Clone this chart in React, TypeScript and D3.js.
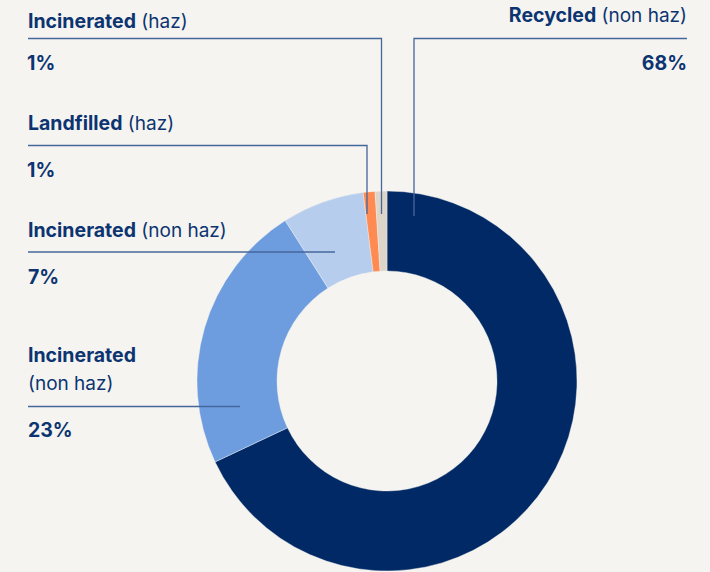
import React from "react";
import * as d3 from "d3";

const categories = [
  "Recycled (non haz)",
  "Incinerated (non haz) 23",
  "Incinerated (non haz) 7",
  "Landfilled (haz)",
  "Incinerated (haz)",
];
const values = [68, 23, 7, 1, 1];
const colors = ["#002966", "#6d9ddf", "#b6cdee", "#ff8b52", "#ddd5c9"];

const W = 710;
const H = 572;
const cx = 387;
const cy = 381;
const outerR = 190;
const innerR = 110;
const textColor = "#0c3470";
const lineColor = "#46679b";

export default function App() {
  const pie = d3
    .pie<number>()
    .sort(null)
    .value((d) => d)
    .startAngle(0)
    .endAngle(2 * Math.PI);
  const arcs = pie(values);
  const arc = d3.arc<d3.PieArcDatum<number>>().innerRadius(innerR).outerRadius(outerR);
  const font = "Inter, 'Noto Sans', sans-serif";
  const reg = { fontWeight: 400, fontSize: 19 };

  return (
    <div style={{ position: "fixed", left: 0, top: 0, width: W, height: H, background: "#f5f4f0" }}>
      <svg width={W} height={H} style={{ display: "block", fontFamily: font }}>
        <rect width={W} height={H} fill="#f5f4f0" />
        <g transform={`translate(${cx},${cy})`}>
          {arcs.map((a, i) => (
            <path key={categories[i]} d={arc(a) || ""} fill={colors[i]} stroke="#f5f4f0" strokeWidth={0.4} />
          ))}
        </g>
        <g fill="none" stroke={lineColor} strokeWidth={1.3}>
          <polyline points="28,38.5 381.5,38.5 381.5,214" />
          <polyline points="28,145.5 367,145.5 367,214" />
          <line x1={28} y1={252} x2={335} y2={252} />
          <line x1={28} y1={406.5} x2={240} y2={406.5} />
          <polyline points="687,38.5 414,38.5 414,216" />
        </g>
        <g fill={textColor} fontSize={19.5}>
          <text x={28} y={28}>
            <tspan fontWeight={700}>Incinerated</tspan>
            <tspan {...reg}> (haz)</tspan>
          </text>
          <text x={27} y={70} fontWeight={700}>1%</text>
          <text x={28} y={130}>
            <tspan fontWeight={700}>Landfilled</tspan>
            <tspan {...reg}> (haz)</tspan>
          </text>
          <text x={27} y={177} fontWeight={700}>1%</text>
          <text x={28} y={237}>
            <tspan fontWeight={700}>Incinerated</tspan>
            <tspan {...reg}> (non haz)</tspan>
          </text>
          <text x={28} y={284} fontWeight={700}>7%</text>
          <text x={28} y={362} fontWeight={700}>Incinerated</text>
          <text x={28} y={390} {...reg}>(non haz)</text>
          <text x={28} y={437} fontWeight={700}>23%</text>
          <text x={687} y={22} textAnchor="end">
            <tspan fontWeight={700}>Recycled</tspan>
            <tspan {...reg}> (non haz)</tspan>
          </text>
          <text x={687} y={70} textAnchor="end" fontWeight={700}>68%</text>
        </g>
      </svg>
    </div>
  );
}
